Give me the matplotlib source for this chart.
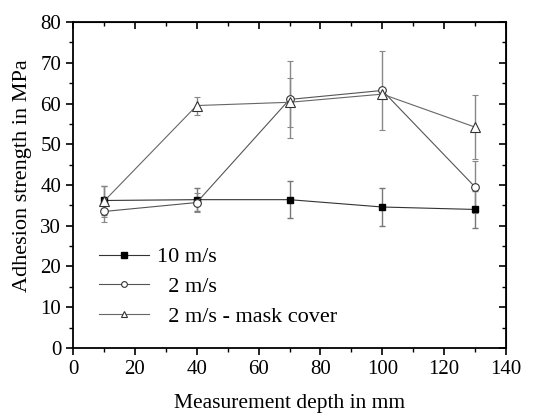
import matplotlib
matplotlib.use("Agg")
import matplotlib.pyplot as plt
from matplotlib.ticker import MultipleLocator

plt.rcParams['font.family'] = ['Liberation Serif', 'DejaVu Serif']

depth = [10, 40, 70, 100, 130]
s10 = [36.2, 36.4, 36.4, 34.6, 34.0]
s10_err = [3.5, 2.8, 4.5, 4.6, 4.6]
s2 = [33.5, 35.7, 61.0, 63.2, 39.5]
s2_err = [2.7, 2.4, 9.5, 9.8, 6.4]
s2m = [36.0, 59.5, 60.3, 62.3, 54.2]
s2m_err = [3.8, 2.2, 6.0, 1.2, 7.9]
labels = ['10 m/s', '  2 m/s', '  2 m/s - mask cover']

fig = plt.figure(figsize=(5.42, 4.13), dpi=100)
ax = fig.add_axes([0.1347, 0.1574, 0.7989, 0.7893])

ax.errorbar(depth, s10, yerr=s10_err, color='#333333', ecolor='#777777', elinewidth=1.0,
            capsize=2.5, marker='s', markersize=5, markerfacecolor='black', markeredgecolor='black',
            lw=0.8, label=labels[0], zorder=3)
ax.errorbar(depth, s2, yerr=s2_err, color='#555555', ecolor='#888888', elinewidth=1.0,
            capsize=2.5, marker='o', markersize=5.5, markerfacecolor='white', markeredgecolor='#333333',
            mew=0.8, lw=0.8, label=labels[1], zorder=3)
ax.errorbar(depth, s2m, yerr=s2m_err, color='#666666', ecolor='#888888', elinewidth=1.0,
            capsize=2.5, marker='^', markersize=6.5, markerfacecolor='white', markeredgecolor='#333333',
            mew=0.8, lw=0.8, label=labels[2], zorder=3)

ax.set_xlim(0, 140)
ax.set_ylim(0, 80)
ax.xaxis.set_major_locator(MultipleLocator(20))
ax.xaxis.set_minor_locator(MultipleLocator(10))
ax.yaxis.set_major_locator(MultipleLocator(10))
ax.yaxis.set_minor_locator(MultipleLocator(5))
ax.tick_params(which='both', direction='out', top=False, right=False, labelsize=15)
ax.tick_params(which='major', length=5, width=1.2)
ax.tick_params(which='minor', length=3, width=1)
secx = ax.secondary_xaxis('top')
secx.xaxis.set_major_locator(MultipleLocator(20))
secx.xaxis.set_minor_locator(MultipleLocator(10))
secx.tick_params(which='both', direction='in', labeltop=False)
secx.tick_params(which='major', length=5, width=1.2)
secx.tick_params(which='minor', length=3, width=1)
secy = ax.secondary_yaxis('right')
secy.yaxis.set_major_locator(MultipleLocator(10))
secy.yaxis.set_minor_locator(MultipleLocator(5))
secy.tick_params(which='both', direction='in', labelright=False)
secy.tick_params(which='major', length=5, width=1.2)
secy.tick_params(which='minor', length=3, width=1)
for sp in ax.spines.values():
    sp.set_linewidth(1.3)

ax.set_xlabel('Measurement depth in mm', fontsize=15.5, labelpad=11)
ax.set_ylabel('Adhesion strength in MPa', fontsize=16)
ax.yaxis.set_label_coords(-0.095, 0.53)

handles, labs = ax.get_legend_handles_labels()
handles = [h[0] for h in handles]
ax.legend(handles, labs, loc='upper left', bbox_to_anchor=(0.014, 0.372), frameon=False,
          fontsize=16, handlelength=2.25, handletextpad=0.36, labelspacing=0.42,
          markerscale=0.75)

fig.savefig('out.png', dpi=100)
